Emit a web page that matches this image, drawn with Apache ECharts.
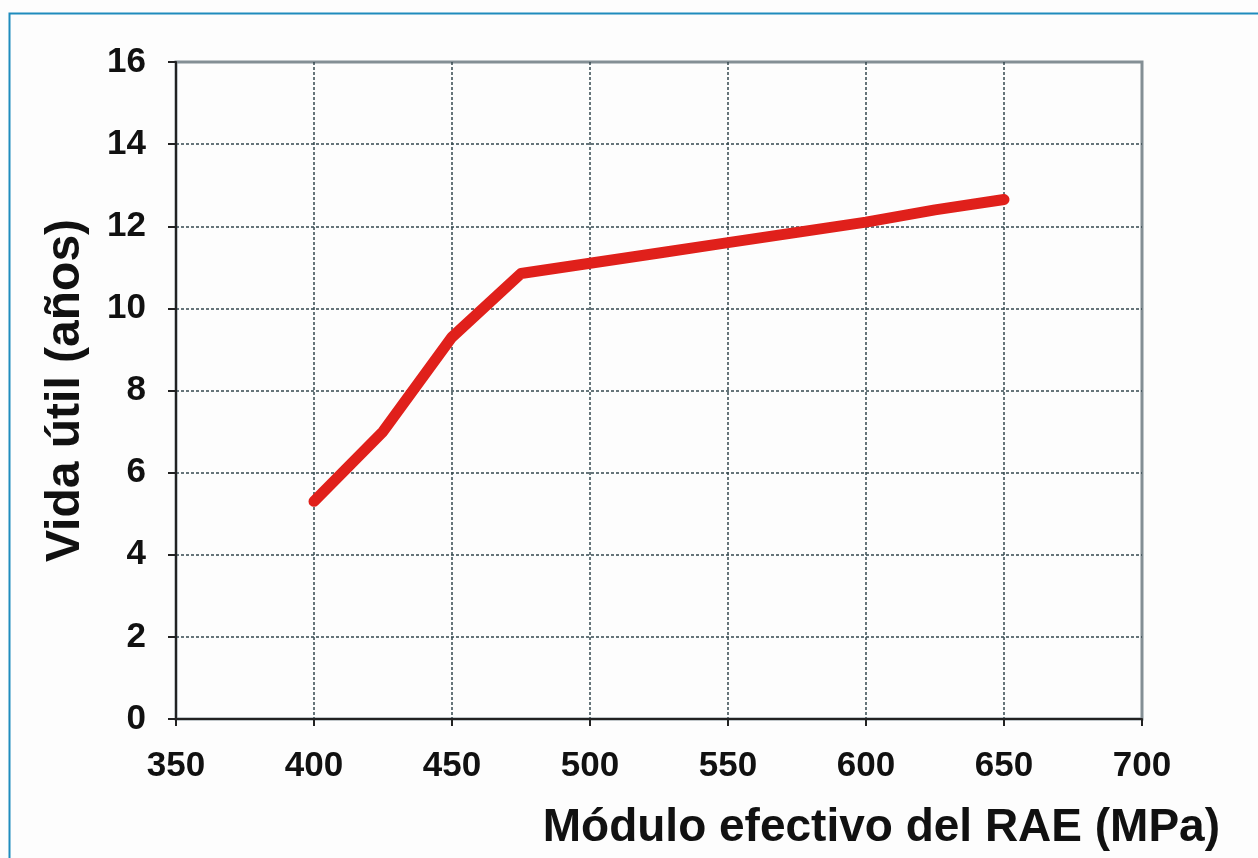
<!DOCTYPE html>
<html>
<head>
<meta charset="utf-8">
<script src="https://cdn.jsdelivr.net/npm/echarts@6/dist/echarts.min.js"></script>
<style>
  html, body { margin: 0; padding: 0; background: #ffffff; }
  #chart { width: 1258px; height: 858px; }
</style>
</head>
<body>
<div id="chart"></div>
<script>
  // modulo efectivo (MPa) vs vida util (anos)
  const modulo = [400, 425, 450, 475, 500, 525, 550, 575, 600, 625, 650]
  const vidaUtil = [5.3, 7.0, 9.3, 10.85, 11.1, 11.35, 11.6, 11.85, 12.1, 12.4, 12.65]

  const xTitle = 'Módulo efectivo del RAE (MPa)'
  const yTitle = 'Vida útil (años)'

  const chart = echarts.init(document.getElementById('chart'))
  const fontFam = '"Liberation Sans", Arial, sans-serif'

  const option = {
    backgroundColor: '#fdfdfd',
    animation: false,
    graphic: [
      {
        // marco azul del recuadro
        type: 'rect',
        left: 7, top: 11,
        shape: { width: 1300, height: 900 },
        style: { fill: 'none', stroke: '#1f8cbd', lineWidth: 2 },
        silent: true
      }
    ],
    grid: {
      left: 176, top: 62, right: 116, bottom: 139,
      show: true,
      borderColor: '#848f95',
      borderWidth: 3,
      backgroundColor: 'transparent'
    },
    xAxis: {
      type: 'value',
      min: 350, max: 700, interval: 50,
      name: xTitle,
      nameLocation: 'end',
      nameGap: 78,
      nameTextStyle: {
        fontFamily: fontFam, fontWeight: 'bold', fontSize: 46, color: '#111',
        align: 'right', verticalAlign: 'top', padding: [86, 0, 0, 0]
      },
      axisLine: { show: true, onZero: false, lineStyle: { color: '#222', width: 2 } },
      axisTick: { show: true, length: 7, lineStyle: { color: '#222', width: 2 } },
      axisLabel: { fontFamily: fontFam, fontWeight: 'bold', fontSize: 35, color: '#111', margin: 30 },
      splitLine: { show: true, showMaxLine: false, lineStyle: { color: '#34484f', width: 1.5, type: [3, 2] } }
    },
    yAxis: {
      type: 'value',
      min: 0, max: 16, interval: 2,
      name: yTitle,
      nameLocation: 'middle',
      nameRotate: 90,
      nameGap: 86,
      nameTextStyle: { fontFamily: fontFam, fontWeight: 'bold', fontSize: 48, color: '#111' },
      axisLine: { show: true, lineStyle: { color: '#222', width: 2 } },
      axisTick: { show: true, length: 8, lineStyle: { color: '#222', width: 2 } },
      axisLabel: { fontFamily: fontFam, fontWeight: 'bold', fontSize: 35, color: '#111', margin: 30 },
      splitLine: { show: true, showMaxLine: false, lineStyle: { color: '#34484f', width: 1.5, type: [3, 2] } }
    },
    series: [
      {
        type: 'line',
        data: modulo.map((m, i) => [m, vidaUtil[i]]),
        showSymbol: false,
        symbol: 'none',
        lineStyle: { color: '#e0201b', width: 11, cap: 'round', join: 'round' }
      }
    ]
  }

  chart.setOption(option)
</script>
</body>
</html>
